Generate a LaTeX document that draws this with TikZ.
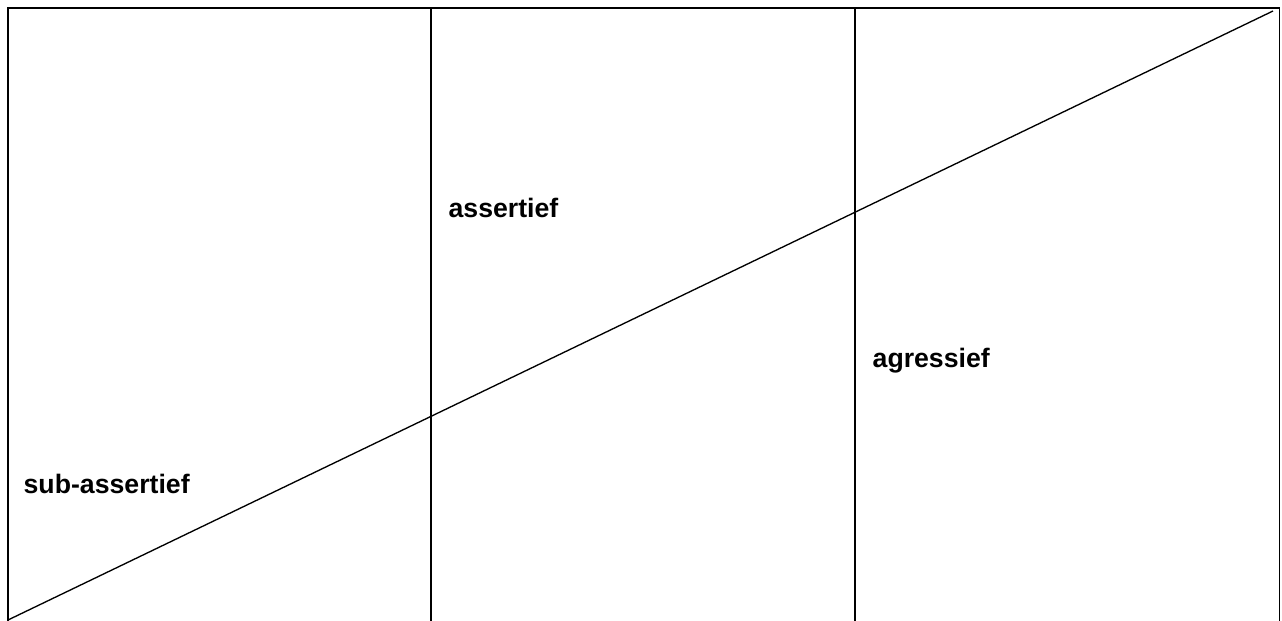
\documentclass[tikz,border=0pt]{standalone}
\usepackage{fontspec}
\setmainfont{Liberation Sans}
\begin{document}
\begin{tikzpicture}[x=0.75pt,y=-0.75pt,line width=1pt]
  \tikzset{kader/.style={black,line width=1pt},
    label/.style={anchor=base west,inner sep=0pt,font=\fontsize{20}{24}\selectfont\bfseries}}
  \useasboundingbox (0,0) rectangle (1282,621);

  % Kader (zonder onderrand)
  \draw[kader] (8,621) -- (8,8) -- (1279.5,8) -- (1279.5,621);
  \draw[kader] (431,8) -- (431,621);
  \draw[kader] (855,8) -- (855,621);

  % Diagonaal
  \coordinate (links) at (8,620);
  \coordinate (rechts) at (1273,11);
  \draw[kader] (links) -- (rechts);

  \node[label] (sub) at (23,493) {sub-assertief};
  \node[label] (ass) at (448,217) {assertief};
  \node[label] (agr) at (872,367) {agressief};
\end{tikzpicture}
\end{document}
